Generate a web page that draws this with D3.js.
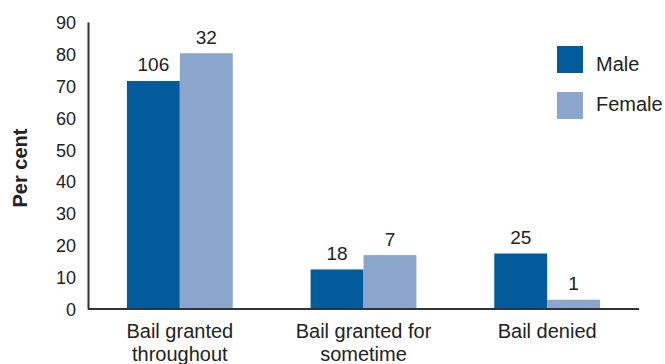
<!DOCTYPE html>
<html>
<head>
<meta charset="utf-8">
<script src="https://cdn.jsdelivr.net/npm/d3@7"></script>
<style>
  body { margin: 0; background: #fff; }
  text { font-family: Arial, "Liberation Sans", sans-serif; fill: #222; }
</style>
</head>
<body>
<svg id="chart" width="665" height="364"></svg>
<script>
const categories = [["Bail granted", "throughout"], ["Bail granted for", "sometime"], ["Bail denied"]];
const series = ["Male", "Female"];
const maleValues = [71.5, 12.4, 17.4];
const femaleValues = [80.2, 16.9, 2.9];
const maleCounts = [106, 18, 25];
const femaleCounts = [32, 7, 1];
const yTicks = [0, 10, 20, 30, 40, 50, 60, 70, 80, 90];
const colors = ["#035b9b", "#8aa6cc"];

const svg = d3.select("#chart");
const plotLeft = 88, plotRight = 639, plotTop = 22, plotBottom = 309;

const x = d3.scaleBand()
    .domain(d3.range(categories.length))
    .range([plotLeft, plotRight])
    .paddingInner(0.424)
    .paddingOuter(0.212);
const xSub = d3.scaleBand()
    .domain(series)
    .range([0, x.bandwidth()]);
const y = d3.scaleLinear()
    .domain([0, 90])
    .range([plotBottom, plotTop]);

const data = categories.map((c, i) => [
    {s: "Male", v: maleValues[i], n: maleCounts[i]},
    {s: "Female", v: femaleValues[i], n: femaleCounts[i]}
]);

// bars
const groups = svg.append("g").selectAll("g")
    .data(data)
    .join("g")
    .attr("transform", (d, i) => `translate(${x(i)},0)`);

groups.selectAll("rect")
    .data(d => d)
    .join("rect")
    .attr("x", d => xSub(d.s))
    .attr("y", d => y(d.v))
    .attr("width", xSub.bandwidth())
    .attr("height", d => y(0) - y(d.v))
    .attr("fill", (d, i) => colors[i]);

groups.selectAll("text.lbl")
    .data(d => d)
    .join("text")
    .attr("class", "lbl")
    .attr("x", d => xSub(d.s) + xSub.bandwidth() / 2)
    .attr("y", d => y(d.v) - 9.5)
    .attr("text-anchor", "middle")
    .attr("font-size", 19)
    .text(d => d.n);

// y axis
const yAxis = svg.append("g")
    .attr("transform", `translate(${plotLeft},0)`)
    .call(d3.axisLeft(y).tickValues(yTicks).tickSize(0).tickPadding(12));
yAxis.select(".domain").attr("stroke", "#333").attr("stroke-width", 2);
yAxis.selectAll("text").attr("font-size", 18).attr("dy", "0.36em");

// x axis
svg.append("line")
    .attr("x1", plotLeft).attr("x2", plotRight)
    .attr("y1", y(0)).attr("y2", y(0))
    .attr("stroke", "#333").attr("stroke-width", 2);

const xl = svg.append("g").selectAll("text")
    .data(categories)
    .join("text")
    .attr("x", (d, i) => x(i) + x.bandwidth() / 2)
    .attr("y", 337.5)
    .attr("text-anchor", "middle")
    .attr("font-size", 20);
xl.selectAll("tspan")
    .data(d => d)
    .join("tspan")
    .attr("x", function () { return d3.select(this.parentNode).attr("x"); })
    .attr("dy", (d, i) => i === 0 ? 0 : 23)
    .text(d => d);

// axis title
svg.append("text")
    .attr("transform", "translate(27,168) rotate(-90)")
    .attr("text-anchor", "middle")
    .attr("font-size", 20)
    .attr("font-weight", "bold")
    .text("Per cent");

// legend
const legend = svg.append("g").selectAll("g")
    .data(series)
    .join("g")
    .attr("transform", (d, i) => `translate(557,${46 + i * 46})`);
legend.append("rect")
    .attr("width", 26).attr("height", 27)
    .attr("fill", (d, i) => colors[i]);
legend.append("text")
    .attr("x", 39).attr("y", (d, i) => 25 - i * 6)
    .attr("font-size", 20)
    .text(d => d);
</script>
</body>
</html>
